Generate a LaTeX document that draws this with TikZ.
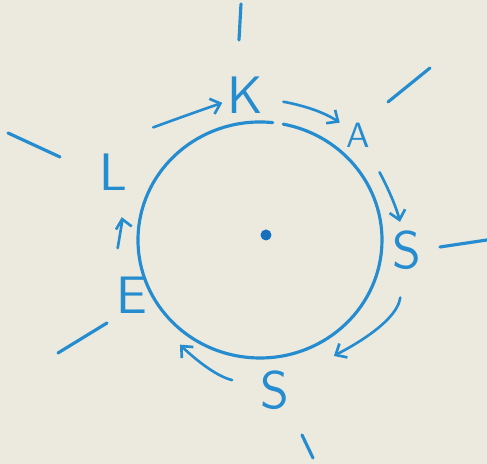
\documentclass[tikz,border=0pt]{standalone}
\usetikzlibrary{arrows.meta}
\definecolor{ink}{RGB}{38,140,208}
\definecolor{inkdark}{RGB}{22,112,190}
\definecolor{paper}{RGB}{236,234,222}

\begin{document}
\begin{tikzpicture}[
    x=0.01cm, y=0.01cm,
    pen/.style={draw=ink, line width=0.9pt, line cap=round},
    letter/.style={text=ink, inner sep=0pt, font=\sffamily\fontsize{15}{15}\selectfont},
    arrow/.style={pen, line width=0.75pt, -{Straight Barb[length=0.09cm, width=0.16cm]}}
  ]
    \path[use as bounding box, fill=paper] (0,0) rectangle (487,464);

    % the ring and its centre
    \draw[pen] (260,224) ++(84:122 and 118)
      arc[start angle=84, end angle=439, x radius=122, y radius=118];
    \fill[inkdark] (266,229) circle (5.5);

    % rays
    \draw[pen] (241,460) -- (239,424);
    \draw[pen] (388,362) -- (430,396);
    \draw[pen] (440,217) -- (487,224);
    \draw[pen] (302,29) -- (313,6);
    \draw[pen] (107,141) -- (58,111);
    \draw[pen] (8,331) -- (60,307);

    % letters round the ring
    \node[letter] (K) at (245,369) {K};
    \node[letter, font=\sffamily\fontsize{10}{10}\selectfont] (A) at (358,329) {A};
    \node[letter] (S1) at (407,214) {S};
    \node[letter] (S2) at (275,74) {S};
    \node[letter] (E) at (132,169) {E};
    \node[letter] (L) at (113,292) {L};

    \draw[arrow, shorten <=0.60cm, shorten >=0.24cm] (L.center) to[out=48, in=199] (K.center);
    \draw[arrow, shorten <=0.39cm, shorten >=0.22cm] (K.center) to[out=-10, in=146] (A.center);
    \draw[arrow, shorten <=0.43cm, shorten >=0.29cm] (A.center) to[out=-60, in=104] (S1.center);
    \draw[arrow, shorten <=0.48cm, shorten >=0.68cm] (S1.center) to[out=-98, in=30] (S2.center);
    \draw[arrow, shorten <=0.44cm, shorten >=0.69cm] (S2.center) to[out=167, in=-46] (E.center);
    \draw[arrow, shorten <=0.49cm, shorten >=0.46cm] (E.center) to[out=107, in=-79] (L.center);
\end{tikzpicture}
\end{document}
